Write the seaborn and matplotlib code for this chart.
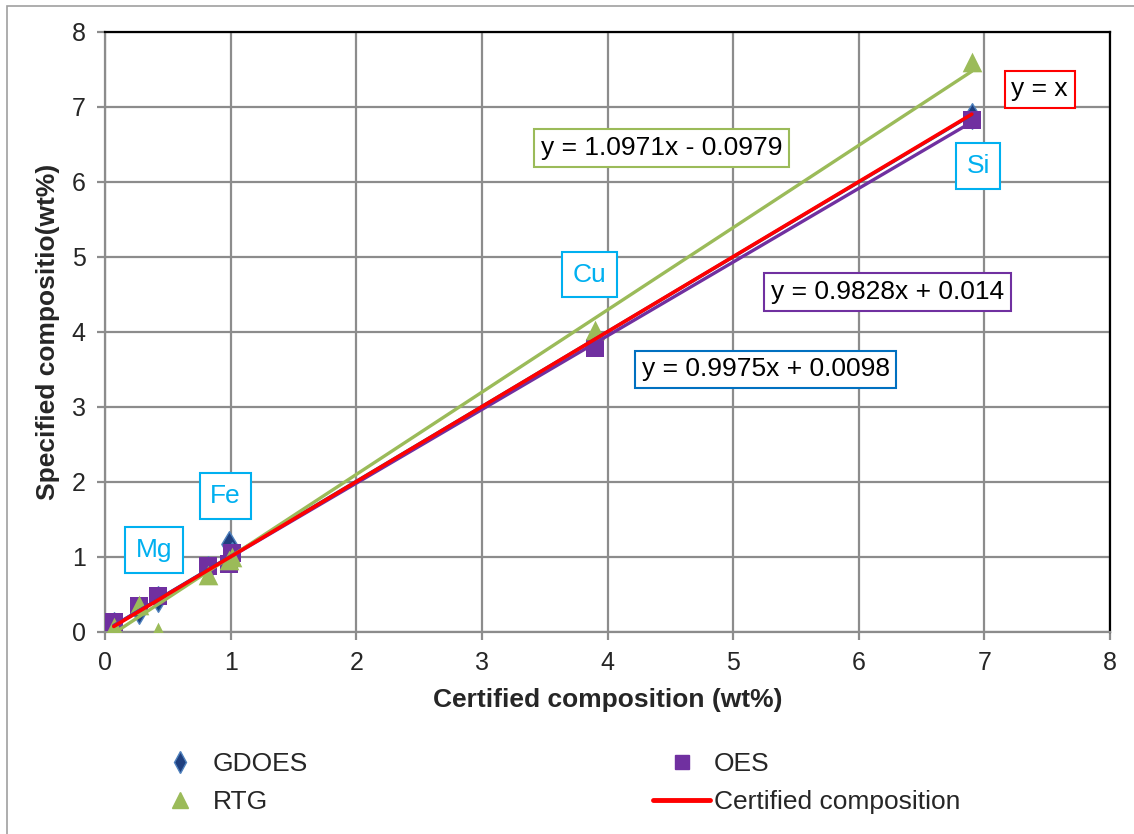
import numpy as np
import pandas as pd
import seaborn as sns
import matplotlib.pyplot as plt
from matplotlib.lines import Line2D
from matplotlib.patches import Rectangle

# Certified vs measured compositions (wt%)
certified = [0.07, 0.27, 0.42, 0.82, 0.99, 1.01, 3.90, 6.90]
gdoes = [0.09, 0.28, 0.44, 0.84, 1.17, 1.02, 3.86, 6.87]
oes = [0.13, 0.34, 0.48, 0.88, 0.90, 1.05, 3.78, 6.82]
rtg = [0.06, 0.35, 0.00, 0.76, 0.96, 1.00, 4.02, 7.60]

# trendline coefficients (slope, intercept) as shown on the chart
fit_gdoes = (0.9975, 0.0098)
fit_oes = (0.9828, 0.014)
fit_rtg = (1.0971, -0.0979)

# element labels: (name, x, y)
elements = [("Mg", 0.39, 1.09), ("Fe", 0.96, 1.81), ("Cu", 3.86, 4.76), ("Si", 6.95, 6.21)]

c_gdoes = "#1F3F7F"
c_oes = "#7030A0"
c_rtg = "#9BBB59"
c_red = "#FF0000"
c_label = "#00B0F0"
c_grid = "#8C8C8C"
fs = 19

sns.set_style("white")
plt.rcParams['font.family'] = ['Liberation Sans', 'DejaVu Sans']

fig = plt.figure(figsize=(11.34, 8.34), dpi=100)
ax = fig.add_axes([105 / 1134, 1 - 631.7 / 834, 1005 / 1134, 600 / 834])

df = pd.DataFrame({'certified': certified, 'GDOES': gdoes, 'OES': oes, 'RTG': rtg})

sns.scatterplot(data=df, x='certified', y='GDOES', marker='d', s=170, color=c_gdoes,
                edgecolor="#4F81BD", linewidth=1, ax=ax, zorder=3)
sns.scatterplot(data=df, x='certified', y='OES', marker='s', s=160, color=c_oes,
                edgecolor=c_oes, linewidth=0, ax=ax, zorder=4)
sns.scatterplot(data=df, x='certified', y='RTG', marker='^', s=200, color=c_rtg,
                edgecolor=c_rtg, linewidth=0, ax=ax, zorder=5)

# trendlines over the data range
xr = np.array([min(certified), max(certified)])
sns.lineplot(x=xr, y=fit_gdoes[0] * xr + fit_gdoes[1], color="#2E5597", lw=2.4, ax=ax, zorder=6)
sns.lineplot(x=xr, y=fit_oes[0] * xr + fit_oes[1], color=c_oes, lw=2.4, ax=ax, zorder=6)
sns.lineplot(x=xr, y=fit_rtg[0] * xr + fit_rtg[1], color=c_rtg, lw=2.4, ax=ax, zorder=6)
sns.lineplot(x=xr, y=xr, color=c_red, lw=2.6, ax=ax, zorder=7)

ax.set_xlim(0, 8)
ax.set_ylim(0, 8)
ax.set_xticks(range(9))
ax.set_yticks(range(9))
ax.grid(True, color=c_grid, lw=1.6)
ax.set_axisbelow(True)
for side in ['left', 'bottom']:
    ax.spines[side].set_color(c_grid)
    ax.spines[side].set_linewidth(1.6)
for side in ['top', 'right']:
    ax.spines[side].set_color('black')
    ax.spines[side].set_linewidth(1.6)
ax.tick_params(axis='both', direction='out', length=6, width=1.6, color=c_grid,
               labelsize=18, pad=8, left=True, bottom=True)

ax.set_xlabel("Certified composition (wt%)", fontsize=fs, fontweight='bold', labelpad=9)
ax.set_ylabel("Specified compositio(wt%)", fontsize=fs, fontweight='bold', labelpad=8)

# element labels
for name, x, y in elements:
    ax.text(x, y, name, fontsize=fs, color=c_label, ha='center', va='center', zorder=9,
            bbox=dict(boxstyle='square,pad=0.4', fc='white', ec=c_label, lw=1.5))

# equation labels
eqs = [("y = 1.0971x - 0.0979", 4.43, 6.45, c_rtg),
       ("y = x", 7.44, 7.23, c_red),
       ("y = 0.9828x + 0.014", 6.23, 4.53, c_oes),
       ("y = 0.9975x + 0.0098", 5.26, 3.50, "#0070C0")]
for txt, x, y, col in eqs:
    ax.text(x, y, txt, fontsize=fs, color='black', ha='center', va='center', zorder=9,
            bbox=dict(boxstyle='square,pad=0.25', fc='white', ec=col, lw=1.5))

handles = [
    Line2D([], [], marker='d', ls='none', color=c_gdoes, mec="#4F81BD", ms=11),
    Line2D([], [], marker='^', ls='none', color=c_rtg, ms=12),
    Line2D([], [], marker='s', ls='none', color=c_oes, ms=10),
    Line2D([], [], color=c_red, lw=3.5),
]
labels = ["GDOES", "RTG", "OES", "Certified composition"]
fig.legend(handles, labels, ncol=2, frameon=False, fontsize=fs,
           loc='upper left', bbox_to_anchor=(128 / 1134, 1 - 728 / 834),
           handlelength=2.15, handletextpad=0.15, columnspacing=13.1, labelspacing=0.55)

# outer chart frame (left/top edges visible)
fig.patches.append(Rectangle((7 / 1134, -0.05), 1.1, 1 - 6 / 834 + 0.05, transform=fig.transFigure,
                             fill=False, ec="#A0A0A0", lw=1.2))

fig.savefig("out.png", dpi=100)
